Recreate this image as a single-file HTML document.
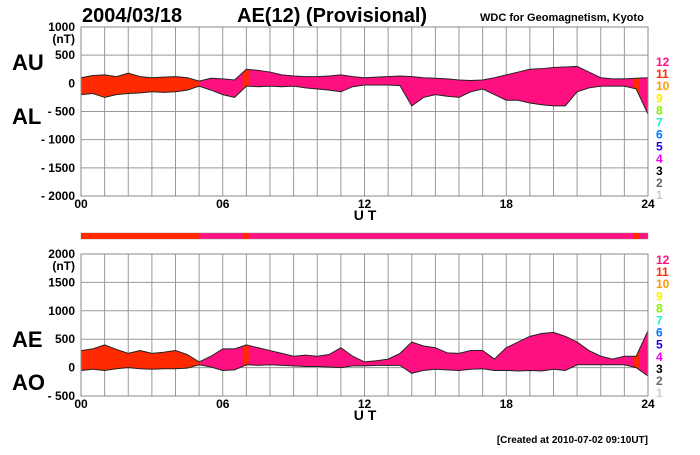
<!DOCTYPE html>
<html><head><meta charset="utf-8"><style>
body{margin:0;background:#fff}
svg text{font-family:"Liberation Sans",sans-serif;font-weight:bold}
</style></head><body>
<svg id="c" width="700" height="450" viewBox="0 0 700 450" xmlns="http://www.w3.org/2000/svg">
<text x="82" y="22" font-size="20">2004/03/18</text>
<text x="237" y="22" font-size="20">AE(12) (Provisional)</text>
<text x="480" y="21" font-size="11">WDC for Geomagnetism, Kyoto</text>
<text x="12" y="70" font-size="22">AU</text>
<text x="12" y="124" font-size="22">AL</text>
<text x="12" y="347" font-size="22">AE</text>
<text x="12" y="390" font-size="22">AO</text>
<text x="365" y="220" font-size="14" text-anchor="middle">U T</text>
<text x="365" y="420" font-size="14" text-anchor="middle">U T</text>
<text x="648" y="443" font-size="10" text-anchor="end">[Created at 2010-07-02 09:10UT]</text>
<g id="g"></g>
</svg>
<script>
const hours=[0,0.5,1,1.5,2,2.5,3,3.5,4,4.5,5,5.5,6,6.5,7,7.5,8,8.5,9,9.5,10,10.5,11,11.5,12,12.5,13,13.5,14,14.5,15,15.5,16,16.5,17,17.5,18,18.5,19,19.5,20,20.5,21,21.5,22,22.5,23,23.5,24];
const auVals=[100,140,150,120,180,120,100,110,120,100,40,90,80,60,250,230,200,150,130,120,120,130,150,120,100,110,120,130,120,100,90,80,60,50,60,100,150,200,250,260,280,290,300,200,100,80,80,90,100];
const alVals=[-200,-180,-250,-200,-180,-170,-150,-160,-150,-120,-50,-120,-200,-250,-50,-60,-50,-60,-50,-80,-100,-120,-150,-60,-30,-30,-30,-40,-400,-250,-200,-230,-250,-150,-100,-200,-300,-300,-350,-380,-400,-400,-150,-80,-50,-50,-50,-100,-550];
const aeVals=[300,330,400,320,250,300,250,270,300,230,100,200,330,330,400,350,300,250,200,220,200,230,350,200,100,120,150,250,450,380,350,260,250,300,300,150,350,450,550,600,620,550,450,300,200,150,200,200,650];
const aoVals=[-50,-30,-50,-20,0,-20,-30,-20,-20,-10,50,10,-50,-40,50,40,50,40,30,20,20,10,0,30,30,40,40,40,-100,-50,-30,-40,-50,-30,-20,-50,-50,-60,-50,-60,-30,-50,50,50,50,50,50,0,-150];
const redSpans=[[0,5],[6.85,7.1],[23.4,23.65]];
const yTicksTop=[1000,500,0,-500,-1000,-1500,-2000];
const yTicksBot=[2000,1500,1000,500,0,-500];
const xTickLabels=["00","06","12","18","24"];
const legendNums=["12","11","10","9","8","7","6","5","4","3","2","1"];
const legendCols=["#ff1080","#ff2a00","#ff9900","#ffee00","#88ee00","#22eecc","#0077ff","#2200ee","#ee00ee","#000","#666","#ccc"];

const NS="http://www.w3.org/2000/svg",G=document.getElementById('g');
function mk(t,a,p){const e=document.createElementNS(NS,t);for(const k in a)e.setAttribute(k,a[k]);(p||G).appendChild(e);return e;}
const X0=81,X1=648;
const xs=h=>X0+(X1-X0)*h/24;

function panel(id,top,bot,ymax,ymin,ticks,upper,lower,legY0){
  const ys=v=>top+(ymax-v)*(bot-top)/(ymax-ymin);
  const g=mk('g',{});
  
  
  for(let h=0;h<=24;h++){const l=mk('line',{x1:xs(h),x2:xs(h),y1:top,y2:bot,stroke:'#999','stroke-width':1},g);
    }
  ticks.forEach(v=>{const l=mk('line',{x1:X0,x2:X1,y1:ys(v),y2:ys(v),stroke:'#999','stroke-width':1},g);
    
    const t=mk('text',{x:75,y:ys(v)+4,'font-size':12,'text-anchor':'end'},g);
    t.textContent=v<0?'- '+(-v):String(v);
    });
  const u=mk('text',{x:75,y:top+16,'font-size':12,'text-anchor':'end'},g);u.textContent='(nT)';
  
  let pts=hours.map((h,i)=>xs(h)+','+ys(upper[i]));
  for(let i=hours.length-1;i>=0;i--)pts.push(xs(hours[i])+','+ys(lower[i]));
  const cp=mk('clipPath',{id:'cp'+id},g);mk('polygon',{points:pts.join(' ')},cp);
  const poly=mk('polygon',{points:pts.join(' '),fill:'#ff1080',stroke:'none'},g);
  
  redSpans.forEach(s=>{const r=mk('rect',{x:xs(s[0]),y:top,width:xs(s[1])-xs(s[0]),height:bot-top,fill:'#ff2a00','clip-path':'url(#cp'+id+')'},g);
    });
  const l1=mk('polyline',{points:hours.map((h,i)=>xs(h)+','+ys(upper[i])).join(' '),fill:'none',stroke:'#222','stroke-width':1},g);
  
  const l2=mk('polyline',{points:hours.map((h,i)=>xs(h)+','+ys(lower[i])).join(' '),fill:'none',stroke:'#222','stroke-width':1},g);
  
  const fr=mk('rect',{x:X0,y:top,width:X1-X0,height:bot-top,fill:'none',stroke:'#888'},g);
  
  xTickLabels.forEach((s,i)=>{const t=mk('text',{x:xs(i*6),y:bot+12,'font-size':12,'text-anchor':'middle'},g);t.textContent=s;
    });
  legendNums.forEach((s,i)=>{const t=mk('text',{x:656,y:legY0+i*12.1,'font-size':12,fill:legendCols[i]},g);t.textContent=s;
    });
}
panel('au-al',27,196,1000,-2000,yTicksTop,auVals,alVals,66);
panel('ae-ao',254,396,2000,-500,yTicksBot,aeVals,aoVals,264);

const bar=mk('rect',{x:X0,y:233,width:X1-X0,height:6,fill:'#ff1080',stroke:'#888','stroke-width':0.5});

redSpans.forEach(s=>{const r=mk('rect',{x:xs(s[0]),y:233,width:xs(s[1])-xs(s[0]),height:6,fill:'#ff2a00'});
  });
</script>
</body></html>
